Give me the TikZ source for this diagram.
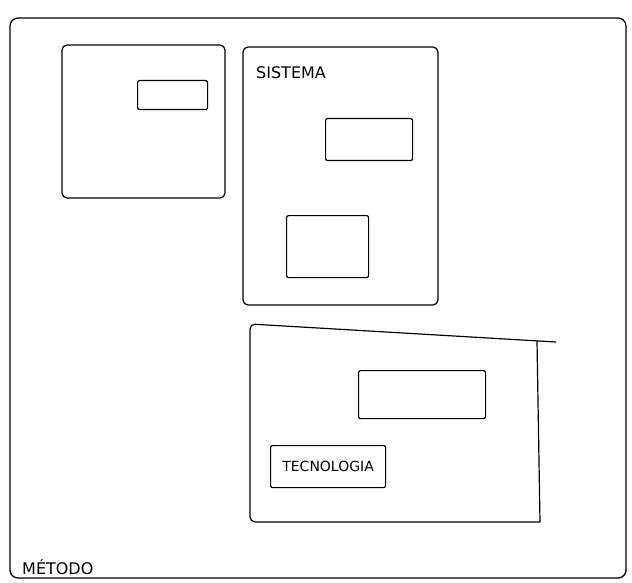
\documentclass[tikz,border=0pt]{standalone}
\usepackage{fontspec}
\setmainfont{DejaVu Sans}
\begin{document}
\begin{tikzpicture}[x=1pt,y=-1pt,
  frame/.style={draw=black,line width=1.3pt,rounded corners=8pt},
  panel/.style={draw=black,line width=1.2pt,rounded corners=5pt},
  slot/.style={draw=black,line width=1.2pt,rounded corners=2pt},
  lbl/.style={font=\fontsize{16}{18}\selectfont,inner sep=1pt}]
\useasboundingbox (0,0) rectangle (632,583);
% outer frame
\draw[frame] (10,18) rectangle (626,578);
\node[lbl,anchor=south west] (metodo) at (21,576) {MÉTODO};
% left panel
\draw[panel] (62,45) rectangle (225,198);
\node[slot,minimum width=70pt,minimum height=29pt,anchor=north west] (s1) at (137,80) {};
% sistema panel
\draw[panel] (243,47) rectangle (438,305);
\node[lbl,anchor=north west] (sistema) at (255,65) {SISTEMA};
\node[slot,minimum width=87pt,minimum height=42pt,anchor=north west] (s2) at (325,118) {};
\node[slot,minimum width=82pt,minimum height=62pt,anchor=north west] (s3) at (286,215) {};
% tecnologia panel
\coordinate (ext) at (556,342);
\draw[panel] (540,522) -- (250,522) -- (250,324) -- (ext);
\draw[line width=1.2pt] (537,341) -- (540,522);
\node[slot,minimum width=127pt,minimum height=48pt,anchor=north west] (s4) at (358,370) {};
\node[slot,minimum width=115pt,minimum height=42pt,anchor=north west,font=\fontsize{14}{16}\selectfont,inner sep=1pt] (tec) at (270,445) {TECNOLOGIA};
\end{tikzpicture}
\end{document}
